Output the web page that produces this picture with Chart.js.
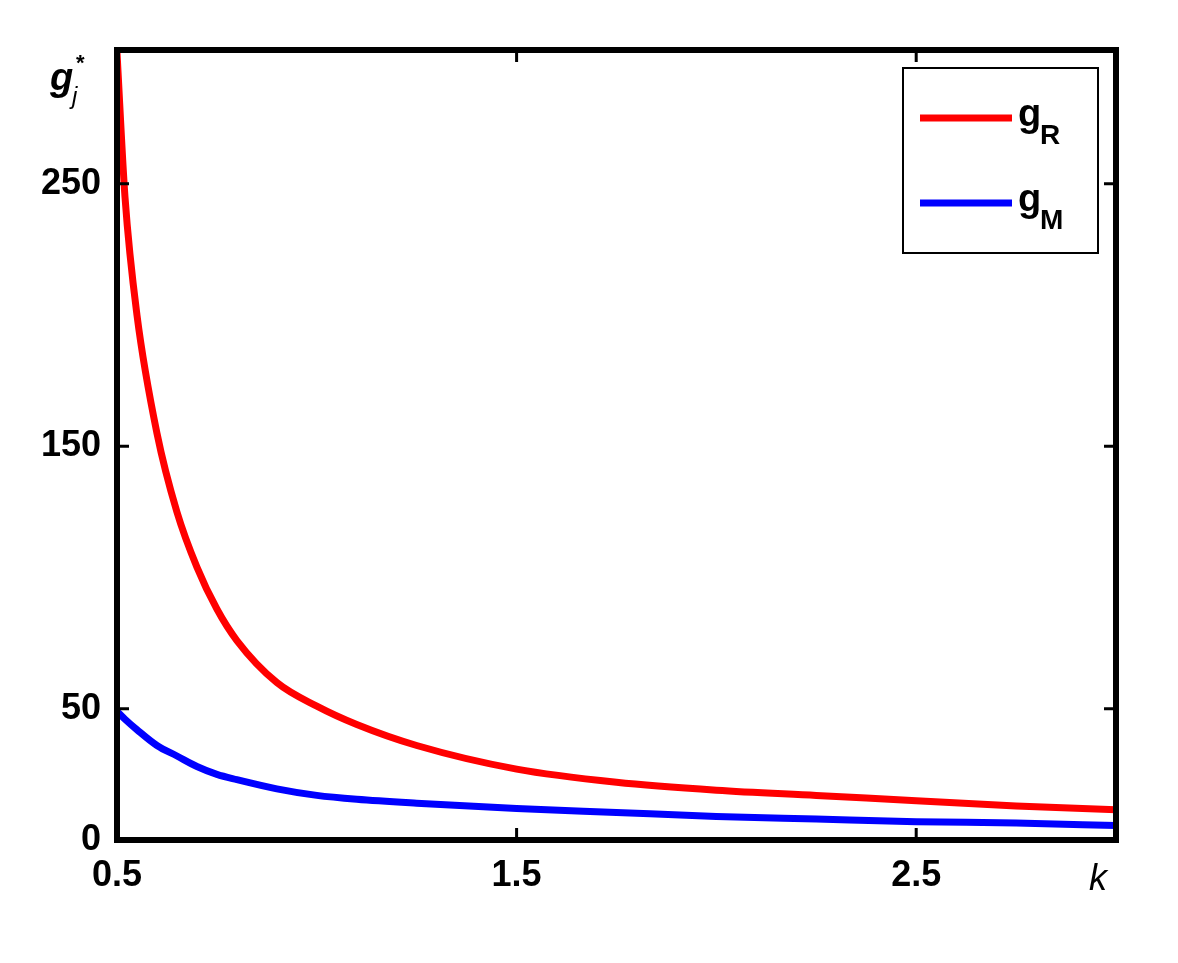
<!DOCTYPE html>
<html><head><meta charset="utf-8">
<script src="https://cdn.jsdelivr.net/npm/chart.js@4"></script>
<style>html,body{margin:0;background:#fff}#w{width:1178px;height:963px}</style>
</head><body><div id="w"><canvas id="c"></canvas></div>
<script>
const kValues=[0.5,0.52,0.55,0.6,0.65,0.7,0.75,0.8,0.9,1.0,1.1,1.25,1.5,1.75,2,2.25,2.5,2.75,3];
const gR=[300,245,200,155,125,104,88,76,60,51,44,36,27,22,19,17,15,13,11.5];
const gM=[49,46,42,36,32,28,25,23,19.5,17,15.5,14,12,10.5,9,8,7,6.5,5.5];
const xTickLabels=[0.5,1.5,2.5];
const yTickLabels=[0,50,150,250];
const deco={id:'deco',afterDraw(ch){
 const c=ch.ctx,a=ch.chartArea,x=ch.scales.x,y=ch.scales.y;
 c.save();c.strokeStyle='#000';c.lineWidth=3;
 xTickLabels.forEach(v=>{if(v===0.5)return;const p=x.getPixelForValue(v);c.beginPath();c.moveTo(p,a.bottom);c.lineTo(p,a.bottom-12);c.moveTo(p,a.top);c.lineTo(p,a.top+12);c.stroke();});
 yTickLabels.forEach(v=>{if(v===0)return;const p=y.getPixelForValue(v);c.beginPath();c.moveTo(a.left,p);c.lineTo(a.left+12,p);c.moveTo(a.right,p);c.lineTo(a.right-12,p);c.stroke();});
 c.lineWidth=6;c.strokeRect(a.left,a.top,a.right-a.left,a.bottom-a.top);
 c.fillStyle='#000';c.font='italic 36px "Liberation Sans", Arial, sans-serif';c.textAlign='center';c.textBaseline='top';
 c.fillText('k',x.getPixelForValue(3)-18,a.bottom+22);
 c.textAlign='left';c.textBaseline='alphabetic';
 c.font='italic bold 38px "Liberation Sans", Arial, sans-serif';c.fillText('g',50,90);
 c.font='italic 24px "Liberation Sans", Arial, sans-serif';c.fillText('j',72,104);
 c.font='bold 22px "Liberation Sans", Arial, sans-serif';c.fillText('*',76,70);
 c.lineWidth=2;c.strokeRect(903,68,195,185);
 c.lineWidth=7;
 [['red','R',118],['blue','M',203]].forEach(([col,s,yy])=>{
  c.strokeStyle=col;c.beginPath();c.moveTo(920,yy);c.lineTo(1012,yy);c.stroke();
  c.fillStyle='#000';c.font='bold 38px "Liberation Sans", Arial, sans-serif';c.fillText('g',1018,yy+8);
  c.font='bold 28px "Liberation Sans", Arial, sans-serif';c.fillText(s,1040,yy+26);
 });
 c.restore();}};
const tf={family:'"Liberation Sans", Arial',size:36,weight:'bold'};
new Chart(document.getElementById('c'),{type:'line',
 data:{datasets:[
  {data:kValues.map((k,i)=>({x:k,y:gR[i]})),borderColor:'red',borderWidth:7,pointRadius:0,cubicInterpolationMode:'monotone'},
  {data:kValues.map((k,i)=>({x:k,y:gM[i]})),borderColor:'blue',borderWidth:7,pointRadius:0,cubicInterpolationMode:'monotone'}]},
 options:{responsive:true,maintainAspectRatio:false,animation:false,
  layout:{padding:{top:50,right:62,left:0,bottom:0}},
  plugins:{legend:{display:false},tooltip:{enabled:false}},
  scales:{
   x:{type:'linear',min:0.5,max:3,grid:{display:false},border:{display:false},
      afterFit(s){s.height=123;},
      afterBuildTicks(s){s.ticks=xTickLabels.map(v=>({value:v}));},
      ticks:{color:'#000',font:tf,padding:6,maxRotation:0,autoSkip:false,callback:v=>String(v)}},
   y:{min:0,max:301,grid:{display:false},border:{display:false},
      afterFit(s){s.width=117;},
      afterBuildTicks(s){s.ticks=yTickLabels.map(v=>({value:v}));},
      ticks:{color:'#000',font:tf,padding:8,autoSkip:false}}
  }},plugins:[deco]});
</script></body></html>
